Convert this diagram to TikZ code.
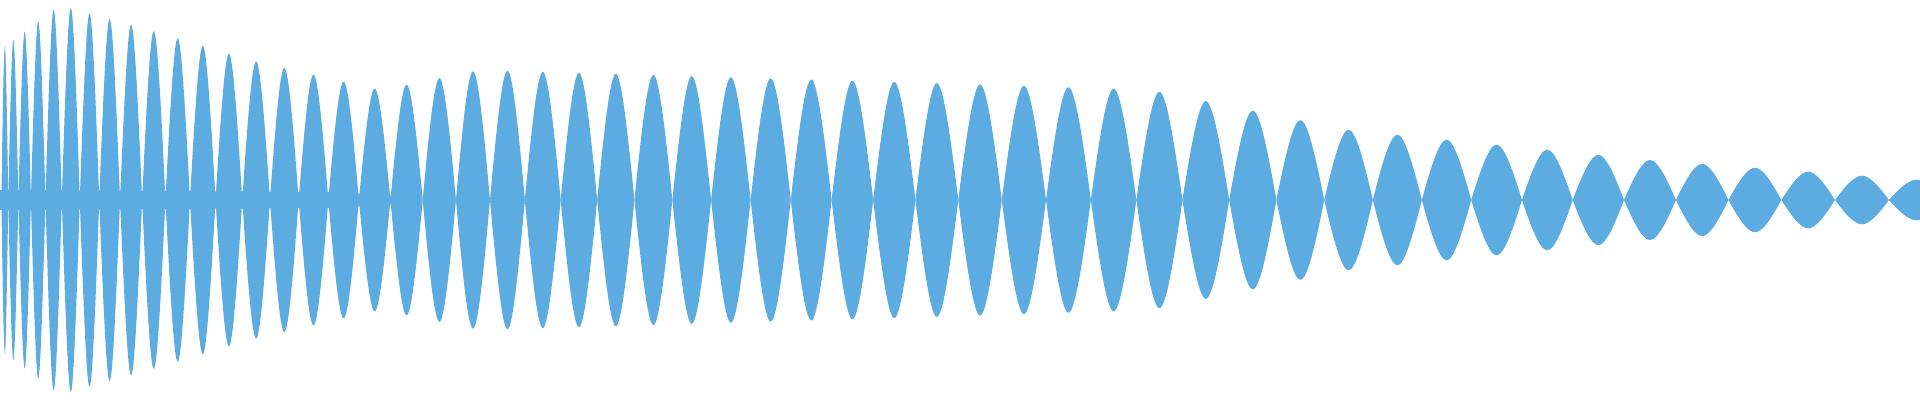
\documentclass[tikz,border=0pt]{standalone}
\definecolor{wave}{RGB}{93,172,225}
\tikzset{lobe/.style={fill=wave,draw=none}}
\begin{document}
\begin{tikzpicture}[x=1pt,y=1pt]
\useasboundingbox (0,0) rectangle (1920,400);
\clip (0,0) rectangle (1920,400);
\fill[wave] (0,190) -- (330,192) -- (420,197) -- (420,203) -- (330,208) -- (0,210) -- cycle;
\foreach \k in {0,...,53}{
  \pgfmathsetmacro{\za}{exp(1.508*ln(2.838*(\k+0.43)))}
  \pgfmathsetmacro{\zb}{exp(1.508*ln(2.838*(\k+1.43)))}
  \pgfmathsetmacro{\w}{\zb-\za}
  \pgfmathsetmacro{\cc}{(\za+\zb)/2}
  \pgfmathsetmacro{\A}{\cc<60 ? 150+0.75*\cc : (\cc<150 ? 195-0.2778*(\cc-60) : (\cc<250 ? 170-0.3*(\cc-150) : (\cc<380 ? 140-0.2308*(\cc-250) : (\cc<480 ? 110+0.2*(\cc-380) : (\cc<1000 ? 130-0.02885*(\cc-480) : (\cc<1150 ? 115-0.0333*(\cc-1000) : (\cc<1350 ? 110-0.2*(\cc-1150) : (\cc<1650 ? 70-0.1*(\cc-1350) : 40-0.0741*(\cc-1650)))))))))}
  \fill[lobe] (\za,200)
    .. controls ({\za+0.2*\w},{200+0.6*\A}) and ({\za+0.36*\w},{200+\A}) .. (\cc,{200+\A})
    .. controls ({\zb-0.36*\w},{200+\A}) and ({\zb-0.2*\w},{200+0.6*\A}) .. (\zb,200)
    .. controls ({\zb-0.2*\w},{200-0.6*\A}) and ({\zb-0.36*\w},{200-\A}) .. (\cc,{200-\A})
    .. controls ({\za+0.36*\w},{200-\A}) and ({\za+0.2*\w},{200-0.6*\A}) .. cycle;
}
\end{tikzpicture}
\end{document}
